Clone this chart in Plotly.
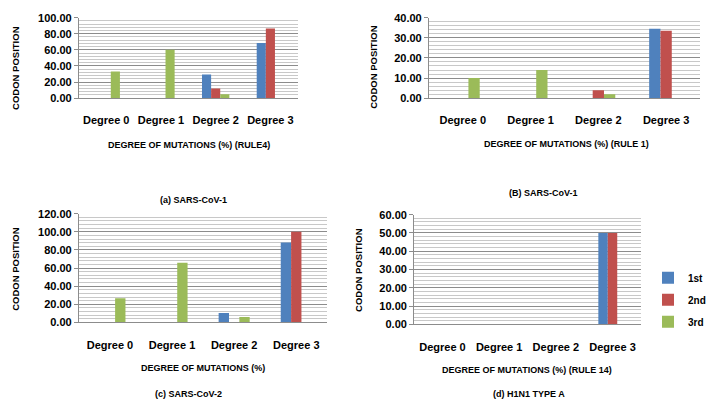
import plotly.graph_objects as go

categories = ["Degree 0", "Degree 1", "Degree 2", "Degree 3"]
series_names = ["1st", "2nd", "3rd"]
colors = ["#4F81BD", "#C0504D", "#9BBB59"]

# panel (a) SARS-CoV-1, rule 4
a_first = [0, 0, 29.5, 68.5]
a_second = [0, 0, 12.0, 86.5]
a_third = [33.0, 60.0, 5.0, 0]
# panel (b) SARS-CoV-1, rule 1
b_first = [0, 0, 0, 34.5]
b_second = [0, 0, 4.0, 33.5]
b_third = [10.0, 14.0, 2.0, 0]
# panel (c) SARS-CoV-2
c_first = [0, 0, 10.3, 88.3]
c_second = [0, 0, 0, 100.0]
c_third = [26.7, 65.8, 6.0, 0]
# panel (d) H1N1 type A, rule 14
d_first = [0, 0, 0, 50.0]
d_second = [0, 0, 0, 50.0]
d_third = [0, 0, 0, 0]

x_titles = ["DEGREE OF MUTATIONS (%) (RULE4)", "DEGREE OF MUTATIONS (%) (RULE 1)",
            "DEGREE OF MUTATIONS (%)", "DEGREE OF MUTATIONS (%) (RULE 14)"]
captions = ["(a) SARS-CoV-1", "(B) SARS-CoV-1", "(c) SARS-CoV-2", "(d) H1N1 TYPE A"]
y_title = "CODON POSITION"

W, H = 711, 408
FONT = "Liberation Sans"

panels = [
    dict(data=[a_first, a_second, a_third], xpx=(80, 302), ypx=(12, 95), rng=100, dt=20,
         ytl=(15, 64), xt=(192, 143), cap=(196, 200)),
    dict(data=[b_first, b_second, b_third], xpx=(435, 710), ypx=(12, 95), rng=40, dt=10,
         ytl=(378, 63), xt=(575, 142), cap=(551, 193)),
    dict(data=[c_first, c_second, c_third], xpx=(80, 332), ypx=(214, 326), rng=120, dt=20,
         ytl=(15, 271), xt=(206, 373), cap=(191, 400)),
    dict(data=[d_first, d_second, d_third], xpx=(420, 650), ypx=(215, 328), rng=60, dt=10,
         ytl=(363, 272), xt=(535, 375), cap=(537, 400)),
]

def px_x(v):
    return v / W

def px_y(v):
    return 1 - v / H

fig = go.Figure()
layout = dict(
    width=W, height=H, margin=dict(l=0, r=0, t=0, b=0),
    paper_bgcolor="white", plot_bgcolor="white",
    barmode="group", bargap=0.5, bargroupgap=0,
    font=dict(family=FONT, size=10, color="black", weight="bold"),
    showlegend=True,
    legend=dict(x=0.925, y=px_y(265), xanchor="left", yanchor="top",
                font=dict(size=10, family=FONT, weight="bold"),
                tracegroupgap=3, itemwidth=30, bgcolor="rgba(0,0,0,0)"),
)
annotations = []

for i, p in enumerate(panels):
    k = "" if i == 0 else str(i + 1)
    xa = "x" + k
    ya = "y" + k
    for j in range(3):
        fig.add_trace(go.Bar(
            x=categories, y=p["data"][j], name=series_names[j],
            marker=dict(color=colors[j], line=dict(width=0)),
            xaxis=xa, yaxis=ya, offsetgroup=str(j),
            legendgroup=series_names[j], showlegend=(i == 0),
        ))
    layout["xaxis" + k] = dict(
        domain=[px_x(p["xpx"][0]), px_x(p["xpx"][1])], anchor=ya,
        showline=True, linecolor="#8c8c8c", linewidth=1, ticks="",
        showgrid=False, ticklabelstandoff=12,
        tickfont=dict(size=11, family=FONT, weight="bold"),
    )
    layout["yaxis" + k] = dict(
        domain=[px_y(p["ypx"][1]), px_y(p["ypx"][0])], anchor=xa,
        range=[0, p["rng"]], dtick=p["dt"], tickformat=".2f",
        showline=True, linecolor="#8c8c8c", linewidth=1,
        ticks="outside", ticklen=4, tickcolor="#8c8c8c",
        showgrid=True, gridcolor="#8c8c8c", gridwidth=1, zeroline=False,
        minor=dict(dtick=p["dt"] / 5, showgrid=True, gridcolor="#c8c8c8", gridwidth=1),
        tickfont=dict(size=11, family=FONT, weight="bold"),
    )
    annotations.append(dict(text=y_title, x=px_x(p["ytl"][0]), y=px_y(p["ytl"][1]),
                            xref="paper", yref="paper", showarrow=False, textangle=-90,
                            xanchor="center", yanchor="middle",
                            font=dict(size=9.5, family=FONT, weight="bold")))
    annotations.append(dict(text=x_titles[i], x=px_x(p["xt"][0]), y=px_y(p["xt"][1]),
                            xref="paper", yref="paper", showarrow=False,
                            xanchor="center", yanchor="middle",
                            font=dict(size=9, family=FONT, weight="bold")))
    annotations.append(dict(text=captions[i], x=px_x(p["cap"][0]), y=px_y(p["cap"][1]),
                            xref="paper", yref="paper", showarrow=False,
                            xanchor="center", yanchor="middle",
                            font=dict(size=9, family=FONT, weight="bold")))

layout["annotations"] = annotations
fig.update_layout(**layout)
fig.write_html("out.html")
